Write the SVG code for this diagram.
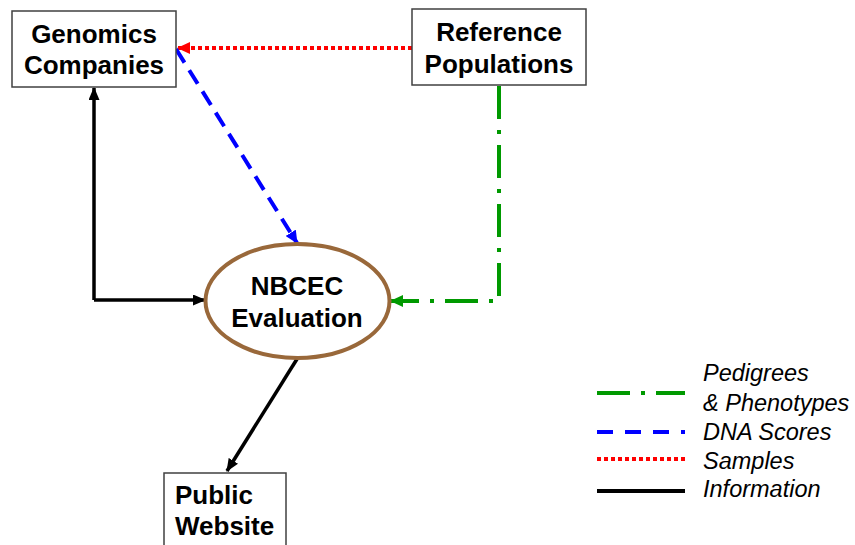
<svg xmlns="http://www.w3.org/2000/svg" width="855" height="545" viewBox="0 0 855 545">
<style>
.box{fill:#fff;stroke:#404040;stroke-width:1.5}
.t{font-family:"Liberation Sans",Arial,sans-serif;font-weight:bold;font-size:26px;fill:#000}
.lg{font-family:"Liberation Sans",Arial,sans-serif;font-style:italic;font-size:23.5px;fill:#000}
.info{fill:none;stroke:#000;stroke-width:3.5}
.dna{fill:none;stroke:#0000ff;stroke-width:4;stroke-dasharray:16 9}
.smp{fill:none;stroke:#ff0000;stroke-width:4;stroke-dasharray:4 3}
.ped{fill:none;stroke:#009900;stroke-width:4;stroke-dasharray:33 11 4 11}
</style>
<defs>
<marker id="ak" markerUnits="userSpaceOnUse" markerWidth="13" markerHeight="11" refX="12" refY="5.5" orient="auto"><path d="M0,0 L13,5.5 L0,11 z" fill="#000"/></marker>
<marker id="ab" markerUnits="userSpaceOnUse" markerWidth="13" markerHeight="12" refX="12" refY="6" orient="auto"><path d="M0,0 L13,6 L0,12 z" fill="#0000ff"/></marker>
<marker id="ar" markerUnits="userSpaceOnUse" markerWidth="13" markerHeight="12" refX="12" refY="6" orient="auto"><path d="M0,0 L13,6 L0,12 z" fill="#ff0000"/></marker>
<marker id="ag" markerUnits="userSpaceOnUse" markerWidth="13" markerHeight="12" refX="12" refY="6" orient="auto"><path d="M0,0 L13,6 L0,12 z" fill="#009900"/></marker>
</defs>
<rect width="855" height="545" fill="#fff"/>
<g id="connectors">
<line class="smp" x1="412" y1="48" x2="178" y2="48" marker-end="url(#ar)"/>
<line class="dna" x1="176" y1="49" x2="297" y2="243" marker-end="url(#ab)"/>
<polyline class="info" points="94,300 94,88" marker-end="url(#ak)"/>
<polyline class="info" points="94,300 205,300" marker-end="url(#ak)"/>
<polyline class="ped" points="499,86 499,301 391,301" marker-end="url(#ag)"/>
<line class="info" x1="297" y1="359" x2="227" y2="471" marker-end="url(#ak)"/>
</g>
<g id="genomics">
<rect class="box" x="12" y="11" width="164" height="76"/>
<text class="t" x="94" y="43" text-anchor="middle">Genomics</text>
<text class="t" x="94" y="74" text-anchor="middle">Companies</text>
</g>
<g id="reference">
<rect class="box" x="412" y="9" width="174" height="76"/>
<text class="t" x="499" y="41" text-anchor="middle">Reference</text>
<text class="t" x="499" y="73" text-anchor="middle">Populations</text>
</g>
<g id="nbcec">
<ellipse cx="297.5" cy="301" rx="92" ry="57" fill="#fff" stroke="#99683a" stroke-width="4"/>
<text class="t" x="297" y="295" text-anchor="middle">NBCEC</text>
<text class="t" x="297" y="327" text-anchor="middle">Evaluation</text>
</g>
<g id="public">
<rect class="box" x="164" y="473" width="122" height="90"/>
<text class="t" x="175" y="504">Public</text>
<text class="t" x="175" y="535">Website</text>
</g>
<g id="legend">
<line class="ped" x1="597" y1="393" x2="685" y2="393"/>
<line class="dna" x1="597" y1="432" x2="685" y2="432" style="stroke-dasharray:16 12 16 12 16 12 4"/>
<line class="smp" x1="597" y1="459" x2="685" y2="459"/>
<line class="info" x1="597" y1="491" x2="685" y2="491" style="stroke-width:4"/>
<text class="lg" x="703" y="381">Pedigrees</text>
<text class="lg" x="703" y="411">&amp; Phenotypes</text>
<text class="lg" x="703" y="440">DNA Scores</text>
<text class="lg" x="703" y="469">Samples</text>
<text class="lg" x="703" y="497">Information</text>
</g>
</svg>
